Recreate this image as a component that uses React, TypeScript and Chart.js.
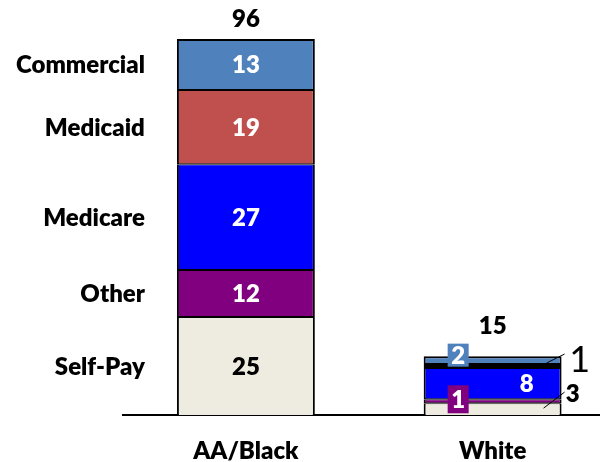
import { useEffect, useRef } from "react";
import { Chart, registerables } from "chart.js";

Chart.register(...registerables);

const categories = ["AA/Black", "White"];
const seriesNames = ["Self-Pay", "Other", "Medicare", "Medicaid", "Commercial"];
const selfPay = [25, 3];
const other = [12, 1];
const medicare = [27, 8];
const medicaid = [19, 1];
const commercial = [13, 2];
const totals = [96, 15];

const seriesColors = ["#EEECE1", "#800080", "#0000FF", "#C0504D", "#4F81BD"];
const labelColors = ["#000000", "#FFFFFF", "#FFFFFF", "#FFFFFF", "#FFFFFF"];

const FONT = "Lato";
const W = "800";

// label placement for the small (White) stack: style only, no values
const whitePlacement: Record<number, any> = {
  0: { mode: "outside", dx: 11, dy: -15, lx1: -18, ly1: -1, lx2: 3, ly2: -17, weight: W, size: 24 },
  1: { mode: "box", bx: 34.5, by: -2, bw: 21, bh: 28 },
  2: { mode: "center", dx: 34 },
  3: { mode: "outside", dx: 18, dy: -6, lx1: -15, ly1: -3, lx2: 3, ly2: -12, weight: "normal", size: 36 },
  4: { mode: "box", bx: 34.5, by: -5, bw: 21, bh: 23 },
};
const totalOffsets = [12, 22];

const labelPlugin = {
  id: "labels",
  afterDatasetsDraw(chart: any) {
    const ctx = chart.ctx;
    ctx.save();
    const n = chart.data.datasets.length;
    for (let d = 0; d < n; d++) {
      const meta = chart.getDatasetMeta(d);
      meta.data.forEach((el: any, c: number) => {
        const v = chart.data.datasets[d].data[c];
        const cy = (el.y + el.base) / 2;
        const left = el.x - el.width / 2;
        const right = el.x + el.width / 2;
        const color = labelColors[d];
        ctx.textAlign = "center";
        ctx.textBaseline = "middle";
        if (c === 1 && whitePlacement[d]) {
          const p = whitePlacement[d];
          if (p.mode === "box") {
            const bx = left + p.bx;
            const by = cy + p.by;
            ctx.fillStyle = seriesColors[d];
            ctx.fillRect(bx - p.bw / 2, by - p.bh / 2, p.bw, p.bh);
            ctx.font = `${W} 24px ${FONT}`;
            ctx.fillStyle = color;
            ctx.fillText(String(v), bx, by + 1);
          } else if (p.mode === "outside") {
            ctx.strokeStyle = "#000";
            ctx.lineWidth = 1;
            ctx.beginPath();
            ctx.moveTo(right + p.lx1, cy + p.ly1);
            ctx.lineTo(right + p.lx2, cy + p.ly2);
            ctx.stroke();
            ctx.font = `${p.weight} ${p.size}px ${FONT}`;
            ctx.fillStyle = "#000";
            ctx.fillText(String(v), right + p.dx, cy + p.dy);
          } else {
            ctx.font = `${W} 24px ${FONT}`;
            ctx.fillStyle = color;
            ctx.fillText(String(v), el.x + (p.dx || 0), cy + 1);
          }
        } else {
          ctx.font = `${W} 24px ${FONT}`;
          ctx.fillStyle = color;
          ctx.fillText(String(v), el.x, cy + 1);
        }
        // series names beside the first stack
        if (c === 0) {
          ctx.textAlign = "right";
          ctx.font = `${W} 24px ${FONT}`;
          ctx.fillStyle = "#000";
          ctx.fillText(seriesNames[d], left - 32, cy + 1);
        }
      });
    }
    // totals
    const topMeta = chart.getDatasetMeta(n - 1);
    topMeta.data.forEach((el: any, c: number) => {
      ctx.textAlign = "center";
      ctx.textBaseline = "alphabetic";
      ctx.font = `${W} 24px ${FONT}`;
      ctx.fillStyle = "#000";
      ctx.fillText(String(totals[c]), el.x, el.y - totalOffsets[c]);
    });
    ctx.restore();
  },
};

export default function App() {
  const ref = useRef<HTMLCanvasElement>(null);
  useEffect(() => {
    const series = [selfPay, other, medicare, medicaid, commercial];
    const last = series.length - 1;
    const chart = new Chart(ref.current!, {
      type: "bar",
      data: {
        labels: categories,
        datasets: series.map((s, i) => ({
          label: seriesNames[i],
          data: s,
          backgroundColor: seriesColors[i],
          borderColor: "#000000",
          borderWidth: (c: any) => {
            const thin = i === 3 && c.dataIndex === 1 ? 2 : 1;
            return { left: 2, right: 2, top: i === last ? 2 : thin, bottom: i === 0 ? 0 : thin };
          },
          borderSkipped: false,
          barPercentage: 1,
          categoryPercentage: 0.559,
        })),
      },
      options: {
        animation: false,
        responsive: false,
        devicePixelRatio: 1,
        layout: { padding: { left: 122.5, right: 4, top: 23.3, bottom: 0 } },
        plugins: { legend: { display: false }, tooltip: { enabled: false } },
        scales: {
          x: {
            stacked: true,
            grid: { display: false, drawTicks: false },
            border: { display: true, color: "#000000", width: 2 },
            ticks: { color: "#000", font: { family: FONT, size: 24, weight: W }, padding: 22 },
            afterFit: (s: any) => {
              s.height = 47;
            },
          },
          y: { stacked: true, display: false, min: 0, max: 100 },
        },
      },
      plugins: [labelPlugin],
    });
    return () => chart.destroy();
  }, []);
  return (
    <div style={{ position: "fixed", left: 0, top: 0, width: 600, height: 462, overflow: "hidden", background: "#fff" }}>
      <canvas ref={ref} width={620} height={462} style={{ width: 620, height: 462 }} />
    </div>
  );
}
